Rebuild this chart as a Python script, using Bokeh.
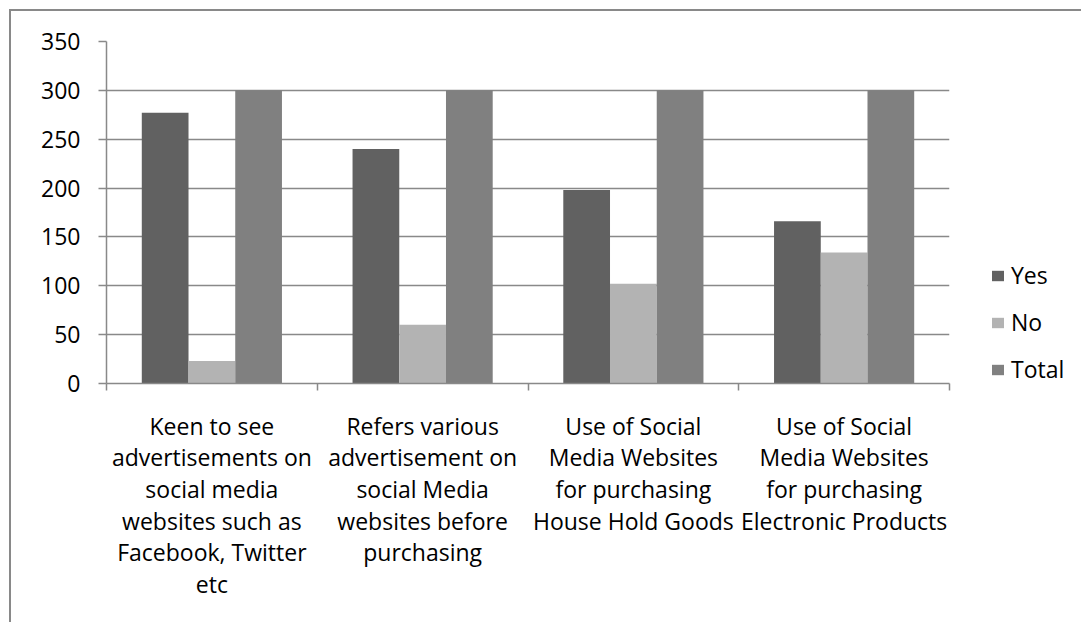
from bokeh.plotting import figure
from bokeh.models import Range1d, FixedTicker, Legend, LegendItem, ColumnDataSource
from bokeh.transform import dodge
from bokeh.embed import file_html
from bokeh.resources import INLINE

categories = ["Keen", "Refers", "House", "Electronic"]
category_labels = [
    "Keen to see\nadvertisements on\nsocial media\nwebsites such as\nFacebook, Twitter\netc",
    "Refers various\nadvertisement on\nsocial Media\nwebsites before\npurchasing",
    "Use of Social\nMedia Websites\nfor purchasing\nHouse Hold Goods",
    "Use of Social\nMedia Websites\nfor purchasing\nElectronic Products",
]
yes = [277, 240, 198, 166]
no = [23, 60, 102, 134]
total = [300, 300, 300, 300]
series_names = ["Yes", "No", "Total"]
series_colors = ["#616161", "#b3b3b3", "#808080"]
y_ticks = [0, 50, 100, 150, 200, 250, 300, 350]

FONT = "Open Sans"
FS = "23px"
GRAY = "#898989"

n = len(categories)
centers = [i + 0.5 for i in range(n)]
source = ColumnDataSource(dict(pos=centers, Yes=yes, No=no, Total=total))

p = figure(
    x_range=Range1d(0, n),
    y_range=Range1d(0, 350),
    frame_width=843, frame_height=342,
    min_border_left=95, min_border_top=30, min_border_right=132, min_border_bottom=241,
    output_backend="svg", toolbar_location=None, tools="",
)
p.styles = {"margin-left": "11px", "margin-top": "11px",
            "box-shadow": "-2px -2px 0px 0px #898989"}
p.outline_line_color = None
p.xgrid.grid_line_color = None
p.ygrid.grid_line_color = GRAY
p.ygrid.grid_line_width = 1.5
p.ygrid.ticker = FixedTicker(ticks=y_ticks)

# y axis
yax = p.yaxis[0]
yax.ticker = FixedTicker(ticks=y_ticks)
yax.axis_line_color = GRAY
yax.axis_line_width = 1.5
yax.major_tick_line_color = GRAY
yax.major_tick_line_width = 1.5
yax.major_tick_out = 8
yax.major_tick_in = 0
yax.minor_tick_line_color = None
yax.major_label_standoff = 18
yax.major_label_text_font = FONT
yax.major_label_text_font_size = FS
yax.major_label_text_color = "#000000"

# x axis: labels at category centres, ticks at category boundaries
xax = p.xaxis[0]
xax.ticker = FixedTicker(ticks=centers, minor_ticks=list(range(n + 1)))
xax.axis_line_color = GRAY
xax.axis_line_width = 1.5
xax.major_tick_line_color = None
xax.major_tick_out = 0
xax.major_tick_in = 0
xax.minor_tick_line_color = GRAY
xax.minor_tick_line_width = 1.5
xax.minor_tick_out = 7
xax.minor_tick_in = 0
xax.major_label_standoff = 19
xax.major_label_overrides = {c: lab for c, lab in zip(centers, category_labels)}
xax.major_label_text_font = FONT
xax.major_label_text_font_size = FS
xax.major_label_text_line_height = 0.99
xax.major_label_text_color = "#000000"

bw = 0.2217
offsets = [-bw, 0.0, bw]
renderers = []
for name, col, off in zip(series_names, series_colors, offsets):
    r = p.vbar(x=dodge("pos", off), top=name, width=bw, source=source,
               fill_color=col, line_color=None)
    renderers.append(r)

legend = Legend(items=[LegendItem(label=nm, renderers=[r]) for nm, r in zip(series_names, renderers)],
                location=(41, -2))
legend.glyph_width = 15
legend.glyph_height = 13
legend.label_height = 20
legend.spacing = 15
legend.padding = 0
legend.margin = 0
legend.border_line_color = None
legend.background_fill_alpha = 0
legend.label_text_font = FONT
legend.label_text_font_size = FS
legend.label_text_color = "#000000"
legend.label_standoff = 6
p.add_layout(legend, "right")

open("out.html", "w").write(file_html(p, INLINE))
